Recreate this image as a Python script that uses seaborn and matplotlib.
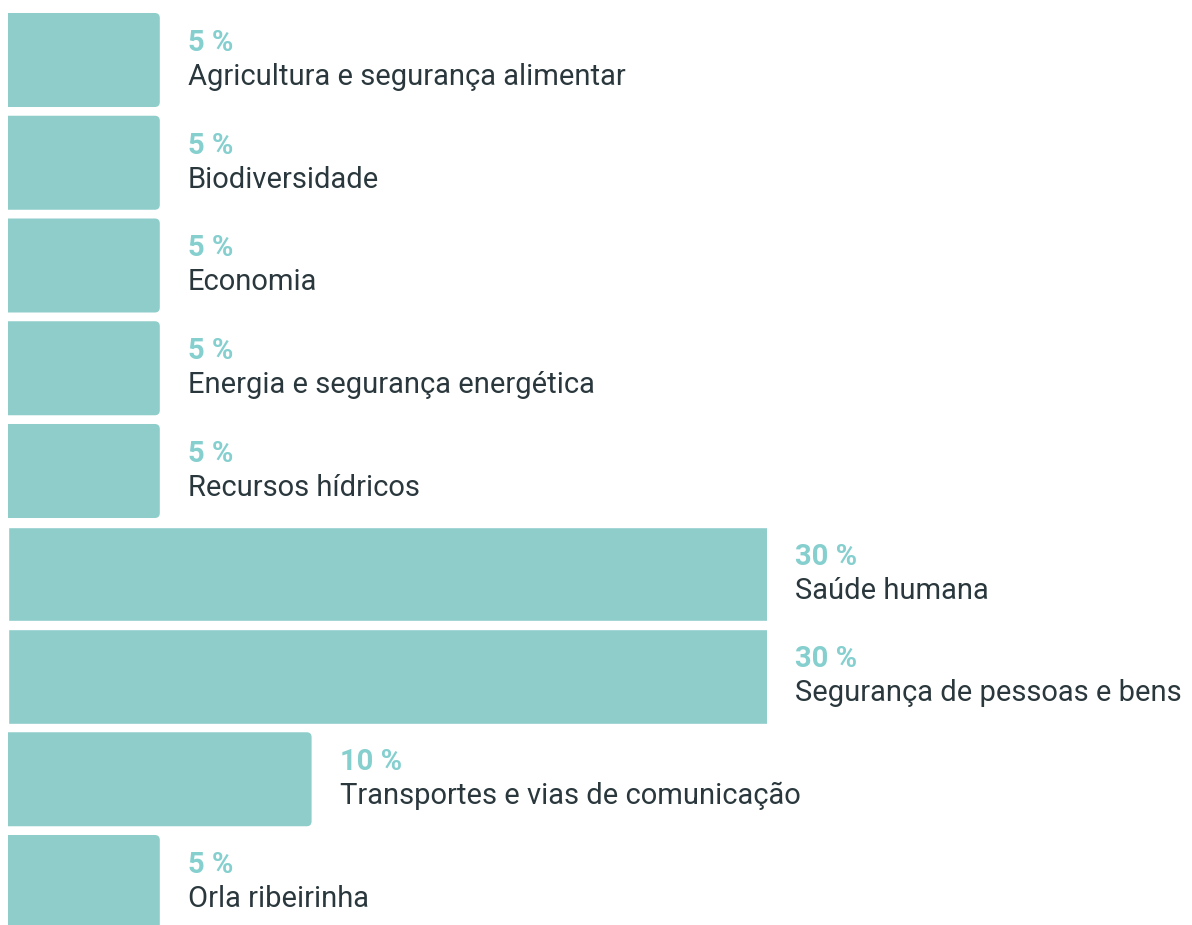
import matplotlib
matplotlib.use("Agg")
import matplotlib.pyplot as plt
from matplotlib.patches import FancyBboxPatch
import seaborn as sns
import pandas as pd

# Share of adaptation measures by sector
categories = [
    "Agricultura e segurança alimentar",
    "Biodiversidade",
    "Economia",
    "Energia e segurança energética",
    "Recursos hídricos",
    "Saúde humana",
    "Segurança de pessoas e bens",
    "Transportes e vias de comunicação",
    "Orla ribeirinha",
]
shares = [5, 5, 5, 5, 5, 30, 30, 10, 5]

BAR = "#8fcdcb"
PCT = "#86cfcf"
LABEL = "#2a383d"

sns.set_theme(style="white")
plt.rcParams["font.family"] = ["Roboto", "DejaVu Sans"]

W, H, DPI = 1192, 925, 100
X_MAX = 25          # axis range; longer bars run off the plotting area
AX_LEFT, AX_WIDTH = 8, 759
px_per_x = AX_WIDTH / X_MAX
px_per_y = 102.75

fig = plt.figure(figsize=(W / DPI, H / DPI), dpi=DPI)
ax = fig.add_axes([AX_LEFT / W, 0, AX_WIDTH / W, 1])

df = pd.DataFrame({"sector": categories, "share": shares})
sns.barplot(data=df, x="share", y="sector", orient="h", color=BAR,
            saturation=1, width=0.915, ax=ax)

ax.set_xlim(0, X_MAX)
ax.set_ylim((H - 60) / px_per_y, -60 / px_per_y)
ax.axis("off")

# Round the right-hand ends of the bars that fit inside the axis range;
# the left corners sit outside the axes and are clipped away.
r = 5 / px_per_x
for patch, v in zip(list(ax.patches), shares):
    if v >= X_MAX:
        continue
    x0, y0 = patch.get_x(), patch.get_y()
    w, h = patch.get_width(), patch.get_height()
    patch.remove()
    rounded = FancyBboxPatch(
        (x0 - 2 * r, y0), w + 2 * r, h,
        boxstyle=f"round,pad=0,rounding_size={r}",
        mutation_aspect=px_per_x / px_per_y,
        facecolor=BAR, edgecolor="none", linewidth=0)
    ax.add_patch(rounded)

for i, (name, v) in enumerate(zip(categories, shares)):
    end = min(v, X_MAX)
    ax.annotate(f"{v} %", xy=(end, i), xytext=(28 * 0.72, 9 * 0.72),
                textcoords="offset points", va="baseline", ha="left",
                fontsize=21, fontweight="bold", color=PCT,
                annotation_clip=False)
    ax.annotate(name, xy=(end, i), xytext=(28 * 0.72, -25 * 0.72),
                textcoords="offset points", va="baseline", ha="left",
                fontsize=21, color=LABEL, annotation_clip=False)

fig.savefig("out.png", dpi=DPI, facecolor="white")
